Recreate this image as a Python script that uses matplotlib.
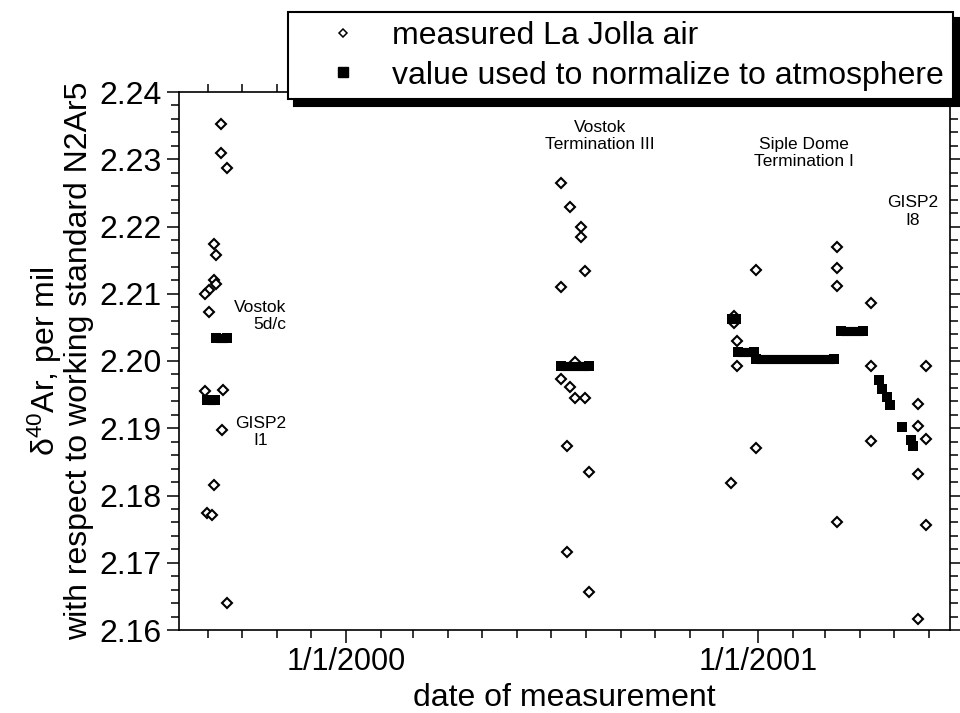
import pandas as pd
import matplotlib.pyplot as plt
import matplotlib.dates as mdates
from matplotlib.lines import Line2D
from matplotlib.ticker import MultipleLocator, FuncFormatter

plt.rcParams['font.family'] = ['Liberation Sans', 'DejaVu Sans']
plt.rcParams['mathtext.fontset'] = 'custom'
plt.rcParams['mathtext.rm'] = 'Liberation Sans'
plt.rcParams['mathtext.it'] = 'Liberation Sans:italic'

# === measured La Jolla air (diamonds) ===
air_dates = [
    # Vostok 5d/c, GISP2 I1
    "1999-09-12", "1999-09-12", "1999-09-18", "1999-09-06", "1999-09-08",
    "1999-09-06", "1999-09-08", "1999-09-02", "1999-08-29", "1999-09-02",
    "1999-08-29", "1999-09-14", "1999-09-13", "1999-09-06", "1999-08-31",
    "1999-09-04", "1999-09-18",
    # Vostok Termination III
    "2000-07-10", "2000-07-18", "2000-07-28", "2000-07-28", "2000-07-31",
    "2000-07-10", "2000-07-22", "2000-07-10", "2000-07-18", "2000-07-22",
    "2000-07-31", "2000-07-15", "2000-08-04", "2000-07-15", "2000-08-04",
    # Siple Dome Termination I, GISP2 I8
    "2000-12-30", "2000-12-10", "2000-12-10", "2000-12-13", "2000-12-13",
    "2000-12-30", "2000-12-08", "2001-03-12", "2001-03-12", "2001-03-12",
    "2001-03-12", "2001-04-11", "2001-04-11", "2001-04-11", "2001-05-30",
    "2001-05-23", "2001-05-23", "2001-05-30", "2001-05-23", "2001-05-30",
    "2001-05-23",
]
air_values = [
    2.2352, 2.2310, 2.2287, 2.2174, 2.2157,
    2.2120, 2.2115, 2.2106, 2.2099, 2.2073,
    2.1956, 2.1957, 2.1897, 2.1816, 2.1774,
    2.1771, 2.1640,
    2.2264, 2.2229, 2.2199, 2.2185, 2.2134,
    2.2110, 2.1999, 2.1973, 2.1961, 2.1945,
    2.1945, 2.1874, 2.1835, 2.1716, 2.1656,
    2.2135, 2.2067, 2.2057, 2.2029, 2.1993,
    2.1870, 2.1819, 2.2169, 2.2138, 2.2112,
    2.1761, 2.2086, 2.1993, 2.1881, 2.1992,
    2.1936, 2.1903, 2.1884, 2.1832, 2.1756,
    2.1616,
]

# === value used to normalize to atmosphere (squares, one run per period) ===
norm_start = [
    "1999-08-31", "1999-09-08", "2000-07-10",
    "2000-12-09", "2000-12-14", "2000-12-30", "2001-03-15",
    "2001-04-18", "2001-04-21", "2001-04-25", "2001-04-28",
    "2001-05-08", "2001-05-16", "2001-05-18",
]
norm_end = [
    "1999-09-07", "1999-09-18", "2000-08-04",
    "2000-12-12", "2000-12-28", "2001-03-09", "2001-04-04",
    "2001-04-18", "2001-04-21", "2001-04-25", "2001-04-28",
    "2001-05-08", "2001-05-16", "2001-05-18",
]
norm_values = [
    2.1942, 2.2034, 2.1992,
    2.2062, 2.2013, 2.2003, 2.2044,
    2.1972, 2.1958, 2.1946, 2.1934,
    2.1902, 2.1882, 2.1873,
]

legend_labels = ["measured La Jolla air", "value used to normalize to atmosphere"]

# === Figura ===
fig = plt.figure(figsize=(9.6, 7.13), dpi=100)
ax = fig.add_axes([179 / 960, 1 - 630 / 713, 771 / 960, 538 / 713])

x_air = pd.to_datetime(air_dates)
ax.plot(x_air, air_values, linestyle='none', marker='D', ms=5.4,
        mfc='white', mec='black', mew=1.5, zorder=3)

for s, e, v in zip(pd.to_datetime(norm_start), pd.to_datetime(norm_end), norm_values):
    ax.plot([s, e], [v, v], color='black', lw=6.6, solid_capstyle='butt',
            marker='s', ms=7.2, mew=0, zorder=4)

ax.set_xlim(pd.Timestamp("1999-08-06"), pd.Timestamp("2001-06-20"))
ax.set_ylim(2.16, 2.24)

ax.xaxis.set_major_locator(mdates.YearLocator())
ax.xaxis.set_minor_locator(mdates.MonthLocator())


def fecha(x, pos):
    d = mdates.num2date(x)
    return f"{d.month}/{d.day}/{d.year}"


ax.xaxis.set_major_formatter(FuncFormatter(fecha))
ax.yaxis.set_major_locator(MultipleLocator(0.01))
ax.yaxis.set_minor_locator(MultipleLocator(0.002))
ax.yaxis.set_major_formatter(FuncFormatter(lambda y, pos: f"{y:.2f}"))

ax.tick_params(which='both', direction='out', top=True, right=True,
               width=1.1, labelsize=22)
ax.tick_params(axis='y', labelsize=23)
ax.tick_params(which='major', length=9)
ax.tick_params(which='minor', length=5.5)
for sp in ax.spines.values():
    sp.set_linewidth(1.2)

ax.set_xlabel("date of measurement", fontsize=23, labelpad=4)
ax.set_ylabel(r"$\mathrm{\delta}^{40}$Ar, per mil" + "\nwith respect to working standard N2Ar5",
              fontsize=23, labelpad=4, linespacing=1.0)

# === Etiquetas de los núcleos ===
ax.text(0.139, 0.584, "Vostok\n5d/c", transform=ax.transAxes, fontsize=12.5,
        ha='right', va='center', multialignment='right')
ax.text(0.106, 0.368, "GISP2\nI1", transform=ax.transAxes, fontsize=12.5,
        ha='center', va='center')
ax.text(0.546, 0.918, "Vostok\nTermination III", transform=ax.transAxes,
        fontsize=12.5, ha='center', va='center')
ax.text(0.810, 0.887, "Siple Dome\nTermination I", transform=ax.transAxes,
        fontsize=12.5, ha='center', va='center')
ax.text(0.952, 0.778, "GISP2\nI8", transform=ax.transAxes, fontsize=12.5,
        ha='center', va='center')

# === Leyenda ===
h_air = Line2D([], [], linestyle='none', marker='D', ms=4.4, mfc='white',
               mec='black', mew=1.1)
h_norm = Line2D([], [], linestyle='none', marker='s', color='black', ms=6.5)
leg = ax.legend([h_air, h_norm], legend_labels, loc='upper right',
                bbox_to_anchor=(953 / 960, 1 - 12 / 713),
                bbox_transform=fig.transFigure, fontsize=23, frameon=True,
                fancybox=False, edgecolor='black', framealpha=1,
                shadow={'ox': 4.5, 'oy': -4.5, 'color': 'black', 'alpha': 1},
                borderpad=0.28, labelspacing=0.3, handlelength=2.9,
                handletextpad=0.1, borderaxespad=0)
leg.get_frame().set_linewidth(1.5)
leg.set_zorder(10)

fig.savefig("out.png", dpi=100)
